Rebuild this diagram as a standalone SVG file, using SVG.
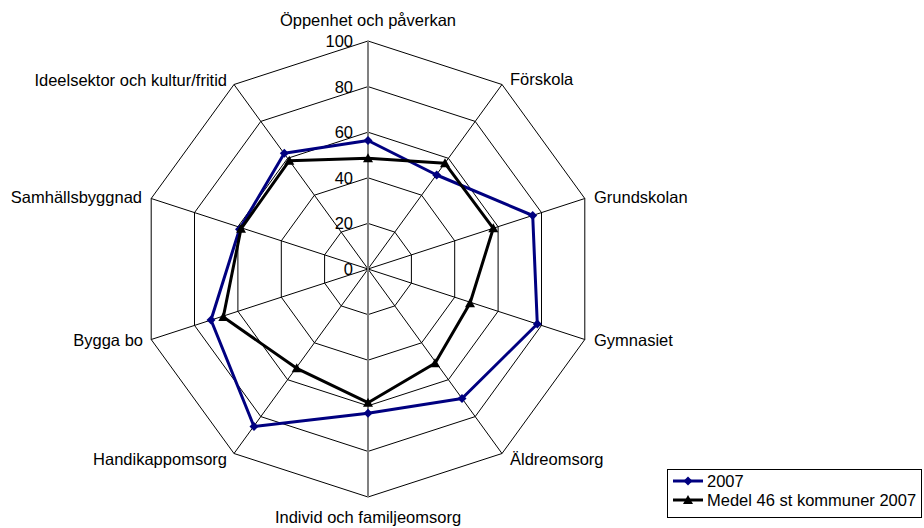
<svg xmlns="http://www.w3.org/2000/svg" width="924" height="528" viewBox="0 0 924 528">
<style>
text{font-family:"Liberation Sans",Arial,sans-serif;font-size:16.5px;fill:#000}
.grid{fill:none;stroke:#000;stroke-width:1}
.axis{stroke:#808080;stroke-width:2}
.s1{fill:none;stroke:#000080;stroke-width:3;stroke-linejoin:round}
.s2{fill:none;stroke:#000;stroke-width:3;stroke-linejoin:round}
.tick{text-anchor:end}
</style>
<defs>
<path id="dia" d="M0,-4.5 L4.5,0 L0,4.5 L-4.5,0 Z" fill="#000080"/>
<path id="tri" d="M0,-5 L5,4 L-5,4 Z" fill="#000"/>
</defs>
<rect width="924" height="528" fill="#fff"/>
<g id="grid">
<polygon class="grid" points="368,223.4 394.8,232.1 411.4,254.9 411.4,283.1 394.8,305.9 368,314.6 341.2,305.9 324.6,283.1 324.6,254.9 341.2,232.1"/>
<polygon class="grid" points="368,177.8 421.6,195.2 454.7,240.8 454.7,297.2 421.6,342.8 368,360.2 314.4,342.8 281.3,297.2 281.3,240.8 314.4,195.2"/>
<polygon class="grid" points="368,132.2 448.4,158.3 498.1,226.7 498.1,311.3 448.4,379.7 368,405.8 287.6,379.7 237.9,311.3 237.9,226.7 287.6,158.3"/>
<polygon class="grid" points="368,86.6 475.2,121.4 541.5,212.6 541.5,325.4 475.2,416.6 368,451.4 260.8,416.6 194.5,325.4 194.5,212.6 260.8,121.4"/>
<polygon class="grid" points="368,41 502,84.5 584.8,198.5 584.8,339.5 502,453.5 368,497 234,453.5 151.2,339.5 151.2,198.5 234,84.5"/>
<path class="grid" d="M368,269 L502,84.5 M368,269 L584.8,198.5 M368,269 L584.8,339.5 M368,269 L502,453.5 M368,269 L234,453.5 M368,269 L151.2,339.5 M368,269 L151.2,198.5 M368,269 L234,84.5"/>
<line class="axis" x1="368" y1="41" x2="368" y2="497"/>
</g>
<g id="ticks">
<text class="tick" x="353" y="275">0</text>
<text class="tick" x="353" y="229.4">20</text>
<text class="tick" x="353" y="183.8">40</text>
<text class="tick" x="353" y="138.2">60</text>
<text class="tick" x="353" y="92.6">80</text>
<text class="tick" x="353" y="47">100</text>
</g>
<g id="labels">
<text x="368" y="26" text-anchor="middle">Öppenhet och påverkan</text>
<text x="510" y="85">Förskola</text>
<text x="594" y="203">Grundskolan</text>
<text x="594" y="346">Gymnasiet</text>
<text x="510" y="465">Äldreomsorg</text>
<text x="368" y="523" text-anchor="middle">Individ och familjeomsorg</text>
<text x="227" y="465" text-anchor="end">Handikappomsorg</text>
<text x="143" y="346" text-anchor="end">Bygga bo</text>
<text x="142" y="203" text-anchor="end">Samhällsbyggnad</text>
<text x="227" y="86" text-anchor="end">Ideelsektor och kultur/fritid</text>
</g>
<g id="series-2007">
<polygon class="s1" points="368,140.5 436.7,175 532.7,215.5 537.3,324 462,398.5 368,413.3 254,426.5 211,320 239.5,229.2 284.3,153.3"/>
<use href="#dia" x="368" y="140.5"/><use href="#dia" x="436.7" y="175"/><use href="#dia" x="532.7" y="215.5"/><use href="#dia" x="537.3" y="324"/><use href="#dia" x="462" y="398.5"/><use href="#dia" x="368" y="413.3"/><use href="#dia" x="254" y="426.5"/><use href="#dia" x="211" y="320"/><use href="#dia" x="239.5" y="229.2"/><use href="#dia" x="284.3" y="153.3"/>
</g>
<g id="series-medel">
<polygon class="s2" points="368,158.3 445,163.3 493.3,228.3 470,303.3 435,363.3 368,402.7 296.7,368.3 223.3,317 241,228.8 289.3,160.7"/>
<use href="#tri" x="368" y="158.3"/><use href="#tri" x="445" y="163.3"/><use href="#tri" x="493.3" y="228.3"/><use href="#tri" x="470" y="303.3"/><use href="#tri" x="435" y="363.3"/><use href="#tri" x="368" y="402.7"/><use href="#tri" x="296.7" y="368.3"/><use href="#tri" x="223.3" y="317"/><use href="#tri" x="241" y="228.8"/><use href="#tri" x="289.3" y="160.7"/>
</g>
<g id="legend">
<rect x="667.5" y="469.5" width="254" height="48" fill="#fff" stroke="#000" stroke-width="1"/>
<line class="s1" x1="673" y1="481" x2="703" y2="481"/>
<use href="#dia" x="688" y="481"/>
<text x="707" y="486.5">2007</text>
<line class="s2" x1="673" y1="500" x2="703" y2="500"/>
<use href="#tri" x="688" y="500"/>
<text x="707" y="505.5">Medel 46 st kommuner 2007</text>
</g>
</svg>
